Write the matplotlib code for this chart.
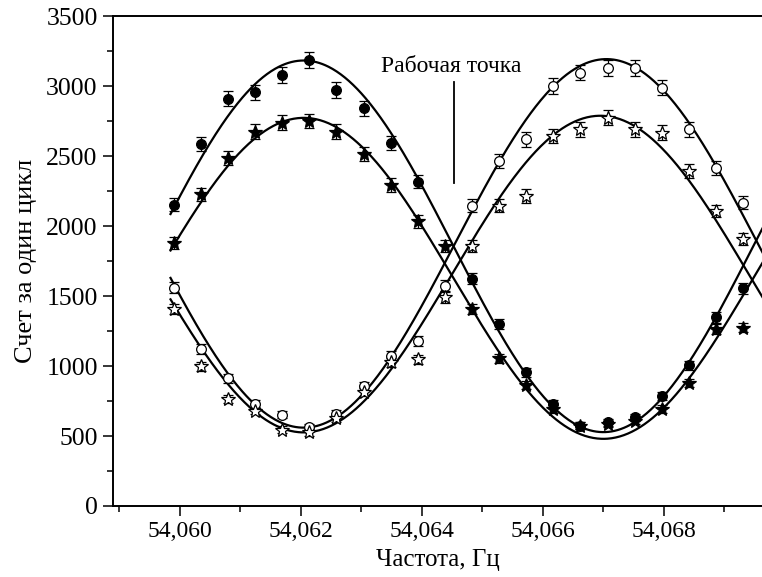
import numpy as np
import matplotlib
matplotlib.use("Agg")
import matplotlib.pyplot as plt
from matplotlib.ticker import FixedLocator, FuncFormatter

plt.rcParams['font.family'] = ['Liberation Serif', 'DejaVu Serif']

# Частота (точки измерений)
freq = [54.05990, 54.06035, 54.06080, 54.06124, 54.06169, 54.06214,
        54.06259, 54.06304, 54.06349, 54.06393, 54.06438, 54.06483,
        54.06528, 54.06573, 54.06617, 54.06662, 54.06707, 54.06752,
        54.06797, 54.06841, 54.06886, 54.06931]

# Счет: закрашенные кружки / звезды, открытые кружки / звезды
circ_filled = [2152, 2586, 2912, 2959, 3081, 3188, 2974, 2843, 2593, 2319, np.nan,
               1625, 1300, 955, 729, 574, 598, 634, 788, 1007, 1348, 1556]
star_filled = [1879, 2229, 2486, 2676, 2741, 2752, 2676, 2519, 2295, 2034, 1859,
               1407, 1055, 864, 693, 574, 586, 610, 693, 879, 1264, 1276]
circ_open = [1562, 1121, 912, 729, 652, 562, 657, 855, 1074, 1181, 1574,
             2145, 2466, 2621, 3002, 3098, 3133, 3133, 2990, 2693, 2419, 2169]
star_open = [1407, 998, 764, 681, 545, 526, 626, 812, 1026, 1050, 1491,
             1859, 2145, 2216, 2645, 2693, 2776, 2693, 2669, 2395, 2109, 1907]

# Параметры аппроксимирующих кривых (A, B, C, D)
fit_center = [54.06205, 54.06205, 54.06205, 54.06205]
fit_period = [0.0099, 0.0099, 0.0100, 0.0098]
fit_max = [3185, 2775, 3195, 2790]
fit_min = [528, 480, 560, 526]
fit_sign = [1, 1, -1, -1]

x_ticks = [54.060, 54.062, 54.064, 54.066, 54.068]
x_minor = [54.059, 54.061, 54.063, 54.065, 54.067, 54.069]
y_ticks = [0, 500, 1000, 1500, 2000, 2500, 3000, 3500]
y_minor = [250, 750, 1250, 1750, 2250, 2750, 3250]

fig = plt.figure(figsize=(7.62, 5.77), dpi=100)
ax = fig.add_axes([0.1483, 0.1231, 0.8517, 0.8484])

x = np.array(freq)
series = [
    (circ_filled, 'o', 'black', 7),
    (star_filled, '*', 'black', 10),
    (circ_open, 'o', 'white', 7),
    (star_open, '*', 'white', 10),
]
for vals, m, fc, ms in series:
    y = np.array(vals, dtype=float)
    ax.errorbar(x, y, yerr=np.sqrt(y), fmt=m, mfc=fc, mec='black', ms=ms,
                mew=0.9, ecolor='black', elinewidth=0.9, capsize=3.5,
                capthick=0.9, zorder=3)

xf = np.linspace(54.05985, 54.0700, 600)
for c, p, hi, lo, s in zip(fit_center, fit_period, fit_max, fit_min, fit_sign):
    mean = (hi + lo) / 2
    amp = (hi - lo) / 2
    ax.plot(xf, mean + s * amp * np.cos(2 * np.pi * (xf - c) / p),
            color='black', lw=1.6, zorder=2)

# Рабочая точка
ax.plot([54.06454, 54.06454], [2310, 3030], color='black', lw=1.3)
ax.text(54.06449, 3145, 'Рабочая точка', ha='center', va='center', fontsize=17)

ax.set_xlim(54.05890, 54.06962)
ax.set_ylim(0, 3500)
ax.xaxis.set_major_locator(FixedLocator(x_ticks))
ax.xaxis.set_minor_locator(FixedLocator(x_minor))
ax.xaxis.set_major_formatter(FuncFormatter(lambda v, pos: f"{v:.3f}".replace('.', ',')))
ax.yaxis.set_major_locator(FixedLocator(y_ticks))
ax.yaxis.set_minor_locator(FixedLocator(y_minor))

ax.spines['right'].set_visible(False)
for sp in ['left', 'bottom', 'top']:
    ax.spines[sp].set_linewidth(1.4)
ax.tick_params(which='major', direction='out', length=7.5, width=1.1,
               labelsize=17, top=False, right=False)
ax.tick_params(axis='y', which='major', labelsize=18.5)
ax.tick_params(which='minor', direction='out', length=4, width=1.1,
               top=False, right=False)

ax.set_xlabel('Частота, Гц', fontsize=18, labelpad=5)
ax.set_ylabel('Счет за один цикл', fontsize=19, labelpad=7)

fig.savefig('out.png', dpi=100)
